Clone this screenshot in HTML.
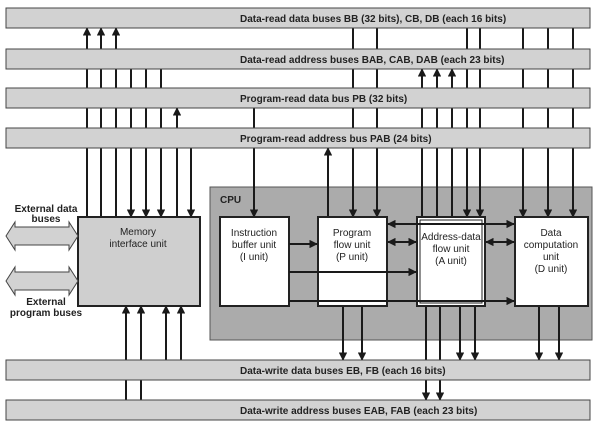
<!DOCTYPE html>
<html><head><meta charset="utf-8"><style>
html,body{margin:0;padding:0;background:#fff;}
svg{display:block;font-family:"Liberation Sans",Arial,sans-serif;}
.bar{fill:#d2d2d2;stroke:#444;stroke-width:1}
.bl{font-weight:bold;font-size:10px;fill:#222}
.ln{stroke:#1a1a1a;stroke-width:2;fill:none}
.u{font-size:10px;fill:#222;text-anchor:middle}
</style></head><body>
<svg width="600" height="433" viewBox="0 0 600 433" xmlns="http://www.w3.org/2000/svg">
<defs>
<marker id="a" viewBox="0 0 10 10" refX="9" refY="5" markerWidth="4.2" markerHeight="4.2" orient="auto-start-reverse">
<path d="M0,0 L10,5 L0,10 z" fill="#1a1a1a"/></marker>
</defs>

<rect x="210" y="187" width="382" height="153" fill="#ababab" stroke="#555" stroke-width="1"/>
<text x="220" y="203" font-size="10" font-weight="bold" fill="#222">CPU</text>

<g class="ln">
<line x1="87" y1="217" x2="87" y2="28" marker-end="url(#a)"/>
<line x1="101" y1="217" x2="101" y2="28" marker-end="url(#a)"/>
<line x1="116" y1="217" x2="116" y2="28" marker-end="url(#a)"/>
<line x1="131" y1="69" x2="131" y2="217" marker-end="url(#a)"/>
<line x1="146" y1="69" x2="146" y2="217" marker-end="url(#a)"/>
<line x1="161" y1="69" x2="161" y2="217" marker-end="url(#a)"/>
<line x1="177" y1="217" x2="177" y2="108" marker-end="url(#a)"/>
<line x1="191" y1="148" x2="191" y2="217" marker-end="url(#a)"/>
<line x1="126" y1="360" x2="126" y2="306" marker-end="url(#a)"/>
<line x1="141" y1="360" x2="141" y2="306" marker-end="url(#a)"/>
<line x1="166" y1="360" x2="166" y2="306" marker-end="url(#a)"/>
<line x1="181" y1="360" x2="181" y2="306" marker-end="url(#a)"/>
<line x1="126" y1="400" x2="126" y2="380"/>
<line x1="141" y1="400" x2="141" y2="380"/>
<line x1="254" y1="108" x2="254" y2="217" marker-end="url(#a)"/>
<line x1="328" y1="217" x2="328" y2="148" marker-end="url(#a)"/>
<line x1="353" y1="28" x2="353" y2="217" marker-end="url(#a)"/>
<line x1="377" y1="28" x2="377" y2="217" marker-end="url(#a)"/>
<line x1="422" y1="217" x2="422" y2="69" marker-end="url(#a)"/>
<line x1="437" y1="217" x2="437" y2="69" marker-end="url(#a)"/>
<line x1="452" y1="217" x2="452" y2="69" marker-end="url(#a)"/>
<line x1="467" y1="28" x2="467" y2="217" marker-end="url(#a)"/>
<line x1="480" y1="28" x2="480" y2="217" marker-end="url(#a)"/>
<line x1="523" y1="28" x2="523" y2="217" marker-end="url(#a)"/>
<line x1="548" y1="28" x2="548" y2="217" marker-end="url(#a)"/>
<line x1="573" y1="28" x2="573" y2="217" marker-end="url(#a)"/>
<line x1="343" y1="306" x2="343" y2="360" marker-end="url(#a)"/>
<line x1="362" y1="306" x2="362" y2="360" marker-end="url(#a)"/>
<line x1="426" y1="306" x2="426" y2="400" marker-end="url(#a)"/>
<line x1="440" y1="306" x2="440" y2="400" marker-end="url(#a)"/>
<line x1="460" y1="306" x2="460" y2="360" marker-end="url(#a)"/>
<line x1="475" y1="306" x2="475" y2="360" marker-end="url(#a)"/>
<line x1="539" y1="306" x2="539" y2="360" marker-end="url(#a)"/>
<line x1="559" y1="306" x2="559" y2="360" marker-end="url(#a)"/>
</g>

<rect class="bar" x="6" y="8" width="584" height="20"/>
<text class="bl" x="240" y="22">Data-read data buses BB (32 bits), CB, DB (each 16 bits)</text>
<rect class="bar" x="6" y="49" width="584" height="20"/>
<text class="bl" x="240" y="63">Data-read address buses BAB, CAB, DAB (each 23 bits)</text>
<rect class="bar" x="6" y="88" width="584" height="20"/>
<text class="bl" x="240" y="102">Program-read data bus PB (32 bits)</text>
<rect class="bar" x="6" y="128" width="584" height="20"/>
<text class="bl" x="240" y="142">Program-read address bus PAB (24 bits)</text>
<rect class="bar" x="6" y="360" width="584" height="20"/>
<text class="bl" x="240" y="374">Data-write data buses EB, FB (each 16 bits)</text>
<rect class="bar" x="6" y="400" width="584" height="20"/>
<text class="bl" x="240" y="414">Data-write address buses EAB, FAB (each 23 bits)</text>

<rect x="78" y="217" width="122" height="89" fill="#cfcfcf" stroke="#222" stroke-width="2"/>
<text class="u" x="138" y="235">Memory</text>
<text class="u" x="138" y="247">interface unit</text>

<path d="M6,236 L15,222 L15,227 L69,227 L69,222 L78,236 L69,250 L69,245 L15,245 L15,250 Z" fill="#d2d2d2" stroke="#444" stroke-width="1"/>
<path d="M6,281 L15,267 L15,272 L69,272 L69,267 L78,281 L69,295 L69,290 L15,290 L15,295 Z" fill="#d2d2d2" stroke="#444" stroke-width="1"/>
<text class="u" x="46" y="212" font-weight="bold">External data</text>
<text class="u" x="46" y="222" font-weight="bold">buses</text>
<text class="u" x="46" y="305" font-weight="bold">External</text>
<text class="u" x="46" y="316" font-weight="bold">program buses</text>

<rect x="220" y="217" width="69" height="89" fill="#fff" stroke="#222" stroke-width="2"/>
<rect x="318" y="217" width="69" height="89" fill="#fff" stroke="#222" stroke-width="2"/>
<rect x="417" y="217" width="68" height="89" fill="#fff" stroke="#222" stroke-width="2"/>
<rect x="420" y="220" width="62" height="83" fill="none" stroke="#222" stroke-width="1"/>
<rect x="515" y="217" width="73" height="89" fill="#fff" stroke="#222" stroke-width="2"/>
<text class="u" x="254" y="236">Instruction</text>
<text class="u" x="254" y="248">buffer unit</text>
<text class="u" x="254" y="260">(I unit)</text>
<text class="u" x="352" y="236">Program</text>
<text class="u" x="352" y="248">flow unit</text>
<text class="u" x="352" y="260">(P unit)</text>
<text class="u" x="451" y="240">Address-data</text>
<text class="u" x="451" y="252">flow unit</text>
<text class="u" x="451" y="264">(A unit)</text>
<text class="u" x="551" y="236">Data</text>
<text class="u" x="551" y="248">computation</text>
<text class="u" x="551" y="260">unit</text>
<text class="u" x="551" y="272">(D unit)</text>

<g class="ln">
<line x1="388" y1="224" x2="514" y2="224" marker-start="url(#a)" marker-end="url(#a)"/>
<line x1="388" y1="242" x2="416" y2="242" marker-start="url(#a)" marker-end="url(#a)"/>
<line x1="486" y1="242" x2="514" y2="242" marker-start="url(#a)" marker-end="url(#a)"/>
<line x1="289" y1="244" x2="317" y2="244" marker-end="url(#a)"/>
<line x1="289" y1="272" x2="416" y2="272" marker-end="url(#a)"/>
<line x1="289" y1="301" x2="514" y2="301" marker-end="url(#a)"/>
</g>
</svg>
</body></html>
